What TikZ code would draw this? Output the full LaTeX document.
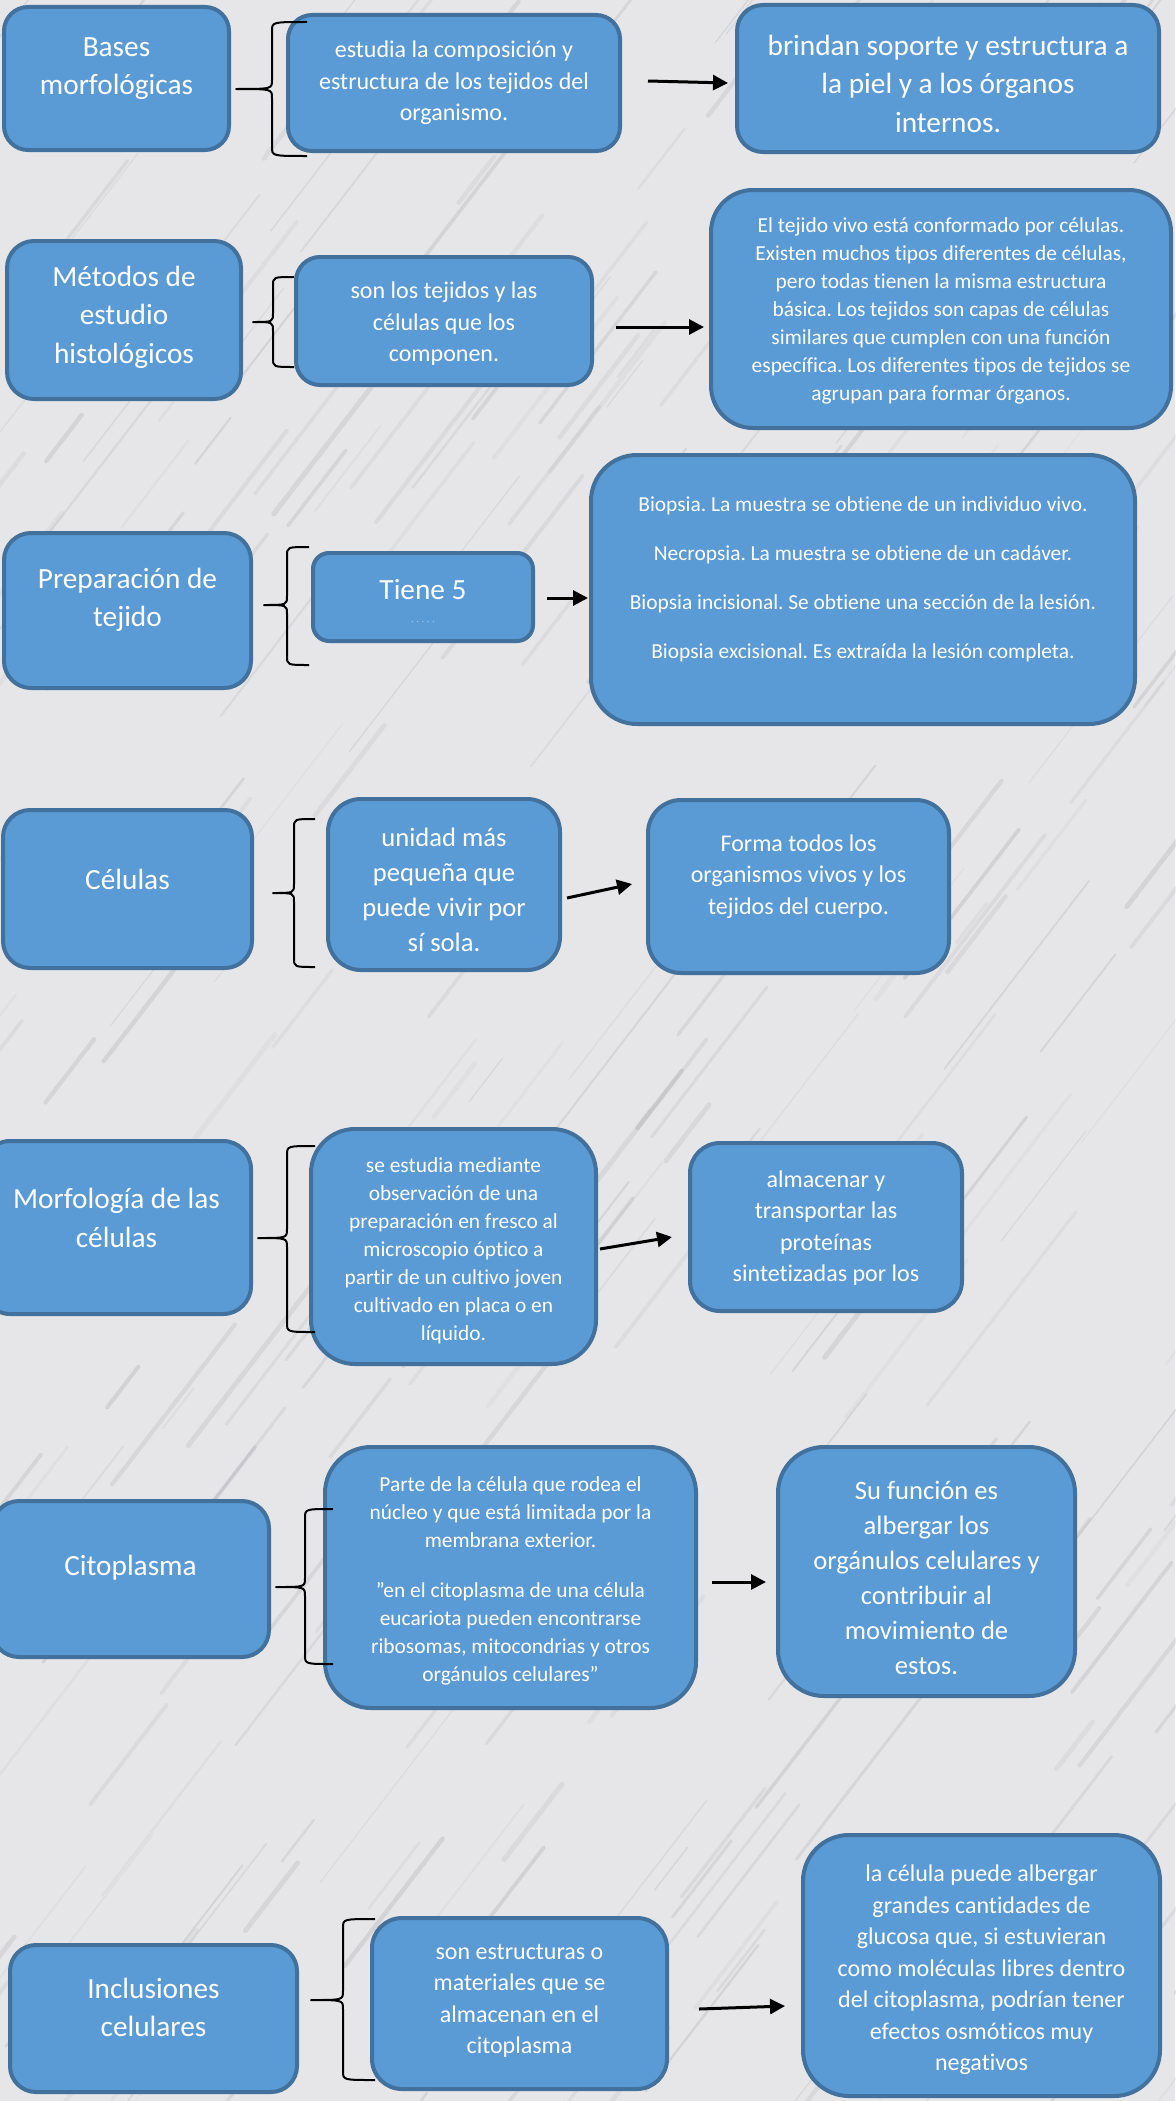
\documentclass[tikz,border=0pt]{standalone}
\usepackage{fontspec}
\setmainfont{Carlito}[Ligatures=NoCommon]
\usepackage{tikz}
\usetikzlibrary{arrows.meta}
\frenchspacing

\definecolor{azul}{HTML}{5B9BD5}
\definecolor{borde}{HTML}{41719C}
\definecolor{marmol}{HTML}{E6E6E8}
\definecolor{veta}{HTML}{8E8E94}

% curly brace: tip x, line x, end x, top y, tip y, bottom y
\newcommand{\llave}[6]{%
  \draw[llaveln] (#3,#4) .. controls (#2,#4) .. (#2,#4+9) -- (#2,#5-9)
    .. controls (#2,#5) .. (#1,#5) .. controls (#2,#5) .. (#2,#5+9)
    -- (#2,#6-9) .. controls (#2,#6) .. (#3,#6);}
\newcommand{\comilla}{\symbol{34}}

\begin{document}
\begin{tikzpicture}[x=1pt, y=-1pt,
    caja/.style={rectangle, draw=borde, line width=4pt, fill=azul, rounded corners=#1, inner sep=0pt},
    caja/.default=25pt,
    grande/.style={text=white, align=center, font=\fontsize{29.3}{38.5}\selectfont},
    medio/.style={text=white, align=center, font=\fontsize{26.6}{35}\selectfont},
    normal/.style={text=white, align=center, font=\fontsize{24}{31.5}\selectfont},
    chico/.style={text=white, align=center, font=\fontsize{21.4}{28}\selectfont},
    flecha/.style={-{Triangle[length=15pt,width=15pt]}, line width=3pt},
    llaveln/.style={line width=2pt, line join=round}
]
\useasboundingbox (0,0) rectangle (1175,2101);
% Marble background
\fill[marmol] (0,0) rectangle (1175,2101);
\pgfmathsetseed{11}
\foreach \i in {1,...,320}{
  \pgfmathsetmacro\xa{rnd*1400-150}
  \pgfmathsetmacro\ya{rnd*2250}
  \pgfmathsetmacro\len{30+rnd*120}
  \pgfmathsetmacro\op{0.06+rnd*0.16}
  \pgfmathsetmacro\lw{1+rnd*4}
  \draw[veta, opacity=\op, line width=\lw pt, line cap=round] (\xa,\ya) -- ++(\len,-1.3*\len);
}
% Row 1
\node[caja=24pt, minimum width=225, minimum height=143,
  label={[grande, yshift=10pt]center:Bases\\morfológicas}] (bases) at (116.5,78.5) {};
\node[caja=24pt, minimum width=332, minimum height=136,
  label={[normal]center:estudia la composición y\\estructura de los tejidos del\\organismo.}] (estudia) at (454,83) {};
\node[caja=26pt, minimum width=422, minimum height=147,
  label={[grande, yshift=-5pt]center:brindan soporte y estructura a\\la piel y a los órganos\\internos.}] (brindan) at (948,78.5) {};
% Row 2
\node[caja=27pt, minimum width=234, minimum height=158,
  label={[grande, yshift=3pt]center:Métodos de\\estudio\\histológicos}] (metodos) at (124,320) {};
\node[caja=24pt, minimum width=296, minimum height=128,
  label={[normal, yshift=-3pt]center:son los tejidos y las\\células que los\\componen.}] (tejidos) at (444,321) {};
\node[caja=42pt, minimum width=460, minimum height=238,
  label={[chico, yshift=-2pt]center:{El tejido vivo está conformado por células.\\Existen muchos tipos diferentes de células,\\pero todas tienen la misma estructura\\básica. Los tejidos son capas de células\\similares que cumplen con una función\\específica. Los diferentes tipos de tejidos se\\agrupan para formar órganos.}}] (tejidovivo) at (941,309) {};
% Row 3
\node[caja=27pt, minimum width=247, minimum height=155,
  label={[grande, yshift=10.5pt]center:Preparación de\\tejido}] (preparacion) at (127.5,610.5) {};
\node[caja=16pt, minimum width=220, minimum height=88,
  label={[grande, yshift=7pt]center:Tiene 5},
  label={[text=azul!55!white, font=\fontsize{9}{9}\selectfont, yshift=-26pt]center:{·\,\,·\,\,·\,\,·\,\,·}}] (tiene) at (423,597) {};
\node[caja=46pt, minimum width=544, minimum height=269,
  label={[chico, yshift=10.5pt]center:Biopsia. La muestra se obtiene de un individuo vivo.\\[21pt]Necropsia. La muestra se obtiene de un cadáver.\\[21pt]Biopsia incisional. Se obtiene una sección de la lesión.\\[21pt]Biopsia excisional. Es extraída la lesión completa.}] (biopsia) at (863,589.5) {};
% Row 4
\node[caja=27pt, minimum width=249, minimum height=158,
  label={[grande, yshift=10pt]center:Células}] (celulas) at (127.5,889) {};
\node[caja=33pt, minimum width=232, minimum height=171,
  label={[medio, yshift=-5.5pt]center:unidad más\\pequeña que\\puede vivir por\\sí sola.}] (unidad) at (444,884.5) {};
\node[caja=33pt, minimum width=301, minimum height=173,
  label={[normal, yshift=10pt]center:Forma todos los\\organismos vivos y los\\tejidos del cuerpo.}] (forma) at (798.5,886.5) {};
% Row 5
\node[caja=28pt, minimum width=269, minimum height=173,
  label={[grande, yshift=9.5pt]center:Morfología de las\\células}] (morfologia) at (116.5,1227.5) {};
\node[caja=44pt, minimum width=285, minimum height=235,
  label={[chico, yshift=-4.5pt]center:se estudia mediante\\observación de una\\preparación en fresco al\\microscopio óptico a\\partir de un cultivo joven\\cultivado en placa o en\\líquido.}] (estudiamed) at (453.5,1246.5) {};
\node[caja=30pt, minimum width=272, minimum height=168,
  label={[normal, yshift=-1pt]center:almacenar y\\transportar las\\proteínas\\sintetizadas por los}] (almacenar) at (826,1227) {};
% Row 6
\node[caja=27pt, minimum width=277, minimum height=156,
  label={[grande, yshift=11pt]center:Citoplasma}] (citoplasma) at (130.5,1579) {};
\node[caja=46pt, minimum width=371, minimum height=261,
  label={[chico, yshift=-3.5pt]center:{Parte de la célula que rodea el\\núcleo y que está limitada por la\\membrana exterior.\\[22pt]\comilla en el citoplasma de una célula\\eucariota pueden encontrarse\\ribosomas, mitocondrias y otros\\orgánulos celulares\comilla}}] (parte) at (510.5,1577.5) {};
\node[caja=46pt, minimum width=297, minimum height=249,
  label={[medio, yshift=-6pt]center:Su función es\\albergar los\\orgánulos celulares y\\contribuir al\\movimiento de\\estos.}] (sufuncion) at (926.5,1571.5) {};
% Row 7
\node[caja=26pt, minimum width=287, minimum height=147,
  label={[grande, yshift=11pt]center:Inclusiones\\celulares}] (inclusiones) at (153.5,2018.5) {};
\node[caja=30pt, minimum width=295, minimum height=171,
  label={[normal, yshift=2.5pt]center:son estructuras o\\materiales que se\\almacenan en el\\citoplasma}] (sonestructuras) at (519.5,2003.5) {};
\node[caja=46pt, minimum width=357, minimum height=261,
  label={[normal, yshift=-4.5pt]center:{la célula puede albergar\\grandes cantidades de\\glucosa que, si estuvieran\\como moléculas libres dentro\\del citoplasma, podrían tener\\efectos osmóticos muy\\negativos}}] (glucosa) at (981.5,1965.5) {};
% Arrows
\draw[flecha] ([xshift=26pt,yshift=2pt]estudia.east) -- ([xshift=-7pt,yshift=-4.5pt]brindan.west);
\draw[flecha] ([xshift=22pt,yshift=-6pt]tejidos.east) -- ([xshift=-5pt,yshift=-18pt]tejidovivo.west);
\draw[flecha] ([xshift=12pt,yshift=-1pt]tiene.east) -- ([xshift=-1pt,yshift=-8.5pt]biopsia.west);
\draw[flecha] ([xshift=5pt,yshift=-13.5pt]unidad.east) -- ([xshift=-14pt,yshift=2.5pt]forma.west);
\draw[flecha] ([xshift=2pt,yshift=-2.5pt]estudiamed.east) -- ([xshift=-16pt,yshift=-10pt]almacenar.west);
\draw[flecha] ([xshift=14pt,yshift=-4.5pt]parte.east) -- ([xshift=-10pt,yshift=-10.5pt]sufuncion.west);
\draw[flecha] ([xshift=30pt,yshift=-5.5pt]sonestructuras.east) -- ([xshift=-16pt,yshift=-40.5pt]glucosa.west);
% Braces
\llave{236}{272}{307}{22}{89}{156}
\llave{253}{273}{294}{277}{322}{367}
\llave{264}{287}{309}{547}{605}{665}
\llave{273}{294}{315}{819}{893}{967}
\llave{258}{287}{315}{1146}{1238}{1332}
\llave{276}{305}{333}{1509}{1587}{1664}
\llave{311}{343}{375}{1919}{2000}{2080}
\end{tikzpicture}
\end{document}
